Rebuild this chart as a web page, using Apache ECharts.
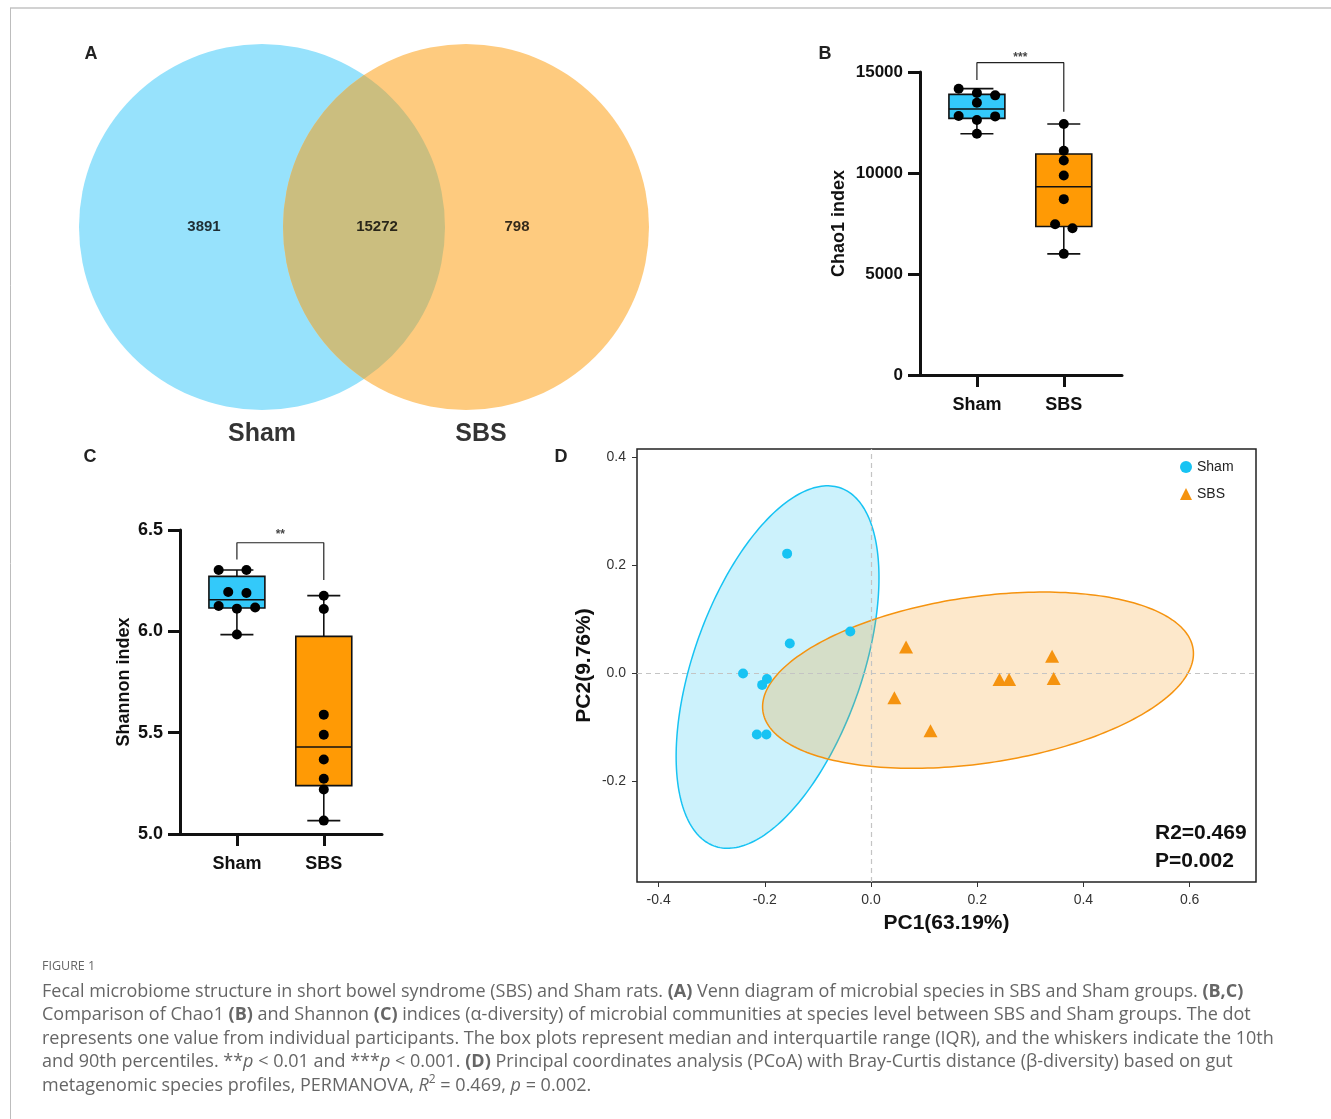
<!DOCTYPE html>
<html><head><meta charset="utf-8">
<script src="https://cdn.jsdelivr.net/npm/echarts@6/dist/echarts.min.js"></script>
<style>html,body{margin:0;padding:0;background:#fff}#c{width:1331px;height:1119px}</style>
</head><body><div id="c"></div>
<script>
// ================= DATA =================
// Panel A – Venn
const vennGroups = ['Sham', 'SBS'];
const vennCounts = [3891, 15272, 798];           // Sham only, shared, SBS only
const vennCircles = [[183, 184, 183], [387, 184, 183]]; // [cx, cy, r] in Venn units
const vennCountX = [125, 298, 438];
const vennGroupX = [183, 402];

// Panels B & C – box plots (min, Q1, median, Q3, max)
const categories = ['Sham', 'SBS'];
const chaoBox = [[11944, 12704, 13167, 13894, 14175], [5997, 7352, 9318, 10937, 12424]];
const chaoShamDots = [14175, 13960, 13844, 13481, 12820, 12803, 12622, 11944];
const chaoShamJit = [-0.21, 0, 0.21, 0, -0.21, 0.21, 0, 0];
const chaoSbsDots = [12424, 11102, 10623, 9880, 8706, 7467, 7269, 5997];
const chaoSbsJit = [0, 0, 0, 0, 0, -0.10, 0.10, 0];
const chaoBracket = [15460, 14604, 13035, 15700]; // top, left foot, right foot, stars
const chaoStars = '***';

const shanBox = [[5.984, 6.115, 6.156, 6.271, 6.303], [5.066, 5.2385, 5.429, 5.975, 6.176]];
const shanShamDots = [6.303, 6.303, 6.194, 6.189, 6.125, 6.112, 6.118, 5.984];
const shanShamJit = [-0.21, 0.11, -0.10, 0.11, -0.21, 0, 0.21, 0];
const shanSbsDots = [6.176, 6.110, 5.589, 5.490, 5.368, 5.273, 5.220, 5.066];
const shanSbsJit = [0, 0, 0, 0, 0, 0, 0, 0];
const shanBracket = [6.437, 6.355, 6.253, 6.475];
const shanStars = '**';

// Panel D – PCoA
const shamPC = [[-0.158, 0.221], [-0.153, 0.0545], [-0.039, 0.077], [-0.241, -0.001],
                [-0.196, -0.011], [-0.205, -0.022], [-0.215, -0.114], [-0.197, -0.114]];
const sbsPC = [[0.066, 0.048], [0.044, -0.046], [0.112, -0.107], [0.242, -0.012],
               [0.260, -0.012], [0.341, 0.031], [0.344, -0.010]];
// ellipse: [centerX, centerY, halfWidth, halfHeight, x at topmost point]
const shamEllipse = [-0.176, 0.011, 0.191, 0.3356, -0.0818];
const sbsEllipse = [0.2015, -0.0133, 0.4057, 0.1632, 0.3239];
const pc1Ticks = [-0.4, -0.2, 0, 0.2, 0.4, 0.6];
const pc2Ticks = [-0.2, 0, 0.2, 0.4];
const permanova = ['R2=0.469', 'P=0.002'];

// ================= STYLE =================
const FF = '"Liberation Sans", Arial, sans-serif';
const CF = '"Open Sans", sans-serif';
const BLUE_BOX = '#33c9fa', ORANGE_BOX = '#ff9a05';
const PC_BLUE = '#17c3f3', PC_ORANGE = '#f5930f';
const BOX_HALF = 0.322, CAP_HALF = 0.19;

function boxRenderFactory(colors) {
  return function (params, api) {
    const x = api.value(0);
    const lo = api.value(1), q1 = api.value(2), med = api.value(3), q3 = api.value(4), hi = api.value(5);
    const c = (v, dx) => api.coord([x + (dx || 0), v]);
    const pLo = c(lo), pQ1 = c(q1), pMed = c(med), pQ3 = c(q3), pHi = c(hi);
    const left = c(q3, -BOX_HALF)[0], right = c(q3, BOX_HALF)[0];
    const capL = c(lo, -CAP_HALF)[0], capR = c(lo, CAP_HALF)[0];
    const ls = { stroke: '#111', lineWidth: 1.6 };
    return { type: 'group', children: [
      { type: 'line', shape: { x1: pLo[0], y1: pLo[1], x2: pQ1[0], y2: pQ1[1] }, style: ls },
      { type: 'line', shape: { x1: pQ3[0], y1: pQ3[1], x2: pHi[0], y2: pHi[1] }, style: ls },
      { type: 'line', shape: { x1: capL, y1: pLo[1], x2: capR, y2: pLo[1] }, style: ls },
      { type: 'line', shape: { x1: capL, y1: pHi[1], x2: capR, y2: pHi[1] }, style: ls },
      { type: 'rect', shape: { x: left, y: pQ3[1], width: right - left, height: pQ1[1] - pQ3[1] },
        style: { fill: colors[params.dataIndex], stroke: '#111', lineWidth: 1.6 } },
      { type: 'line', shape: { x1: left, y1: pMed[1], x2: right, y2: pMed[1] }, style: ls }
    ]};
  };
}

function ellipseRenderFactory(fill, stroke) {
  return function (params, api) {
    const cx = api.value(0), cy = api.value(1), hw = api.value(2), hh = api.value(3), tx = api.value(4);
    const sxy = (tx - cx) * hh;
    const p2 = sxy / hw;
    const q2 = Math.sqrt(Math.max(hh * hh - p2 * p2, 0));
    const pts = [];
    for (let k = 0; k < 240; k++) {
      const t = k / 240 * 2 * Math.PI;
      pts.push(api.coord([cx + hw * Math.cos(t), cy + p2 * Math.cos(t) + q2 * Math.sin(t)]));
    }
    return { type: 'polygon', shape: { points: pts }, style: { fill: fill, stroke: stroke, lineWidth: 1.5 } };
  };
}

const vennColors = ['#97e2fc', '#fecb7f'];
const vennOverlap = '#cbbe7f';

function dots(vals, jit, idx) { return vals.map((v, i) => [idx + jit[i], v]); }
function bracket(b) { return [[0, b[1]], [0, b[0]], [1, b[0]], [1, b[2]]]; }

function boxXAxis(gi, fs) {
  return {
    type: 'value', gridIndex: gi, min: -0.655, max: 1.67,
    axisLine: { show: true, onZero: false, lineStyle: { color: '#111', width: 3 } },
    axisTick: { show: true, customValues: [0, 1], length: 12, lineStyle: { color: '#111', width: 3 } },
    axisLabel: { show: true, customValues: [0, 1], formatter: v => categories[Math.round(v)] || '',
                 margin: 21, color: '#111', fontSize: fs, fontWeight: 'bold', fontFamily: FF },
    splitLine: { show: false }
  };
}
function boxYAxis(gi, min, max, interval, fmt, name, gap, fs) {
  return {
    type: 'value', gridIndex: gi, min: min, max: max, interval: interval,
    name: name, nameLocation: 'middle', nameGap: gap,
    nameTextStyle: { color: '#111', fontSize: 18, fontWeight: 'bold', fontFamily: FF },
    axisLine: { show: true, onZero: false, lineStyle: { color: '#111', width: 3 } },
    axisTick: { show: true, length: 12, lineStyle: { color: '#111', width: 3 } },
    axisLabel: { formatter: fmt, margin: 17, color: '#111', fontSize: fs, fontWeight: 'bold', fontFamily: FF },
    splitLine: { show: false }
  };
}

const dotStyle = { color: '#000', opacity: 1 };

const option = {
  animation: false,
  backgroundColor: '#fff',
  grid: [
    { left: 79, top: 43, width: 571, height: 368 },
    { left: 920, top: 72, width: 202, height: 303 },
    { left: 180, top: 530, width: 202, height: 304 },
    { left: 637, top: 449, width: 619, height: 433, show: true, borderColor: '#222', borderWidth: 1.5, backgroundColor: 'transparent' }
  ],
  xAxis: [
    { type: 'value', gridIndex: 0, min: 0, max: 571, show: false },
    boxXAxis(1, 18),
    boxXAxis(2, 18),
    { type: 'value', gridIndex: 3, min: -0.4407, max: 0.725,
      name: 'PC1(63.19%)', nameLocation: 'middle', nameGap: 31,
      nameTextStyle: { color: '#111', fontSize: 21, fontWeight: 'bold', fontFamily: FF },
      axisLine: { show: false, onZero: false },
      axisTick: { show: true, customValues: pc1Ticks, length: 5, lineStyle: { color: '#333', width: 1 } },
      axisLabel: { customValues: pc1Ticks, formatter: v => v.toFixed(1), margin: 11, color: '#333', fontSize: 14, fontFamily: FF },
      splitLine: { show: false } }
  ],
  yAxis: [
    { type: 'value', gridIndex: 0, min: 0, max: 368, show: false },
    boxYAxis(1, 0, 15000, 5000, v => String(v), 'Chao1 index', 72, 17),
    boxYAxis(2, 5, 6.5, 0.5, v => v.toFixed(1), 'Shannon index', 47, 18),
    { type: 'value', gridIndex: 3, min: -0.387, max: 0.4148,
      name: 'PC2(9.76%)', nameLocation: 'middle', nameGap: 42,
      nameTextStyle: { color: '#111', fontSize: 21, fontWeight: 'bold', fontFamily: FF },
      axisLine: { show: false, onZero: false },
      axisTick: { show: true, customValues: pc2Ticks, length: 5, lineStyle: { color: '#333', width: 1 } },
      axisLabel: { customValues: pc2Ticks, formatter: v => v.toFixed(1), margin: 11, color: '#333', fontSize: 14, fontFamily: FF },
      splitLine: { show: false } }
  ],
  legend: {
    orient: 'vertical', left: 1180, top: 460, padding: 0, itemWidth: 12, itemHeight: 12, itemGap: 13,
    textStyle: { color: '#222', fontSize: 14, fontFamily: FF },
    data: [{ name: 'Sham', icon: 'circle' }, { name: 'SBS', icon: 'triangle' }],
    selectedMode: false
  },
  series: [
    // ---- A: Venn ----
    { type: 'custom', name: 'venn', xAxisIndex: 0, yAxisIndex: 0, data: vennCircles, z: 1,
      renderItem: (params, api) => {
        const p = api.coord([api.value(0), api.value(1)]);
        const r = api.size([api.value(2), 0])[0];
        return { type: 'circle', shape: { cx: p[0], cy: p[1], r: r }, style: { fill: vennColors[params.dataIndex] } };
      } },
    { type: 'custom', name: 'vennOverlap', xAxisIndex: 0, yAxisIndex: 0, data: [[0]], z: 2,
      renderItem: (params, api) => {
        const a = api.coord([vennCircles[0][0], vennCircles[0][1]]);
        const b = api.coord([vennCircles[1][0], vennCircles[1][1]]);
        const r = api.size([vennCircles[0][2], 0])[0];
        const d = b[0] - a[0];
        const xm = a[0] + d / 2, h = Math.sqrt(r * r - d * d / 4);
        const yt = a[1] - h, yb = a[1] + h;
        const path = 'M' + xm + ',' + yt + ' A' + r + ',' + r + ' 0 0 1 ' + xm + ',' + yb +
                     ' A' + r + ',' + r + ' 0 0 1 ' + xm + ',' + yt + ' Z';
        return { type: 'path', shape: { pathData: path }, style: { fill: vennOverlap } };
      } },
    { type: 'scatter', name: 'vennCounts', xAxisIndex: 0, yAxisIndex: 0, z: 5, symbolSize: 0.1, clip: false,
      itemStyle: { color: 'transparent' },
      data: vennCounts.map((v, i) => [vennCountX[i], 184, v]),
      label: { show: true, position: 'inside', formatter: p => String(p.value[2]),
               color: '#000', fontSize: 15, fontWeight: 'bold', fontFamily: FF } },
    { type: 'scatter', name: 'vennNames', xAxisIndex: 0, yAxisIndex: 0, z: 5, symbolSize: 0.1, clip: false,
      itemStyle: { color: 'transparent' },
      data: vennGroups.map((g, i) => [vennGroupX[i], -23, g]),
      label: { show: true, position: 'inside', formatter: p => p.value[2],
               color: '#000', fontSize: 25, fontWeight: 'bold', fontFamily: FF } },

    // ---- B: Chao1 ----
    { type: 'custom', name: 'chaoBox', xAxisIndex: 1, yAxisIndex: 1, z: 2,
      data: chaoBox.map((b, i) => [i].concat(b)), renderItem: boxRenderFactory([BLUE_BOX, ORANGE_BOX]) },
    { type: 'scatter', name: 'chaoDots', xAxisIndex: 1, yAxisIndex: 1, z: 4, symbolSize: 10, itemStyle: dotStyle,
      data: dots(chaoShamDots, chaoShamJit, 0).concat(dots(chaoSbsDots, chaoSbsJit, 1)) },
    { type: 'line', name: 'chaoBracket', xAxisIndex: 1, yAxisIndex: 1, clip: false, symbol: 'none',
      lineStyle: { color: '#222', width: 1.2 }, data: bracket(chaoBracket) },
    { type: 'scatter', name: 'chaoStars', xAxisIndex: 1, yAxisIndex: 1, clip: false, symbolSize: 0.1,
      itemStyle: { color: 'transparent' }, data: [[0.5, chaoBracket[3]]],
      label: { show: true, position: 'inside', formatter: chaoStars, color: '#111', fontSize: 12, fontWeight: 'bold', fontFamily: FF } },

    // ---- C: Shannon ----
    { type: 'custom', name: 'shanBox', xAxisIndex: 2, yAxisIndex: 2, z: 2,
      data: shanBox.map((b, i) => [i].concat(b)), renderItem: boxRenderFactory([BLUE_BOX, ORANGE_BOX]) },
    { type: 'scatter', name: 'shanDots', xAxisIndex: 2, yAxisIndex: 2, z: 4, symbolSize: 10, itemStyle: dotStyle,
      data: dots(shanShamDots, shanShamJit, 0).concat(dots(shanSbsDots, shanSbsJit, 1)) },
    { type: 'line', name: 'shanBracket', xAxisIndex: 2, yAxisIndex: 2, clip: false, symbol: 'none',
      lineStyle: { color: '#222', width: 1.2 }, data: bracket(shanBracket) },
    { type: 'scatter', name: 'shanStars', xAxisIndex: 2, yAxisIndex: 2, clip: false, symbolSize: 0.1,
      itemStyle: { color: 'transparent' }, data: [[0.5, shanBracket[3]]],
      label: { show: true, position: 'inside', formatter: shanStars, color: '#111', fontSize: 12, fontWeight: 'bold', fontFamily: FF } },

    // ---- D: PCoA ----
    { type: 'custom', name: 'shamEllipse', xAxisIndex: 3, yAxisIndex: 3, z: 2, data: [shamEllipse],
      renderItem: ellipseRenderFactory('rgba(23,195,243,0.22)', PC_BLUE) },
    { type: 'custom', name: 'sbsEllipse', xAxisIndex: 3, yAxisIndex: 3, z: 2, data: [sbsEllipse],
      renderItem: ellipseRenderFactory('rgba(245,147,15,0.215)', PC_ORANGE) },
    { type: 'scatter', name: 'Sham', xAxisIndex: 3, yAxisIndex: 3, z: 5, symbol: 'circle', symbolSize: 10,
      itemStyle: { color: PC_BLUE, opacity: 1 }, data: shamPC,
      markLine: { silent: true, symbol: 'none', label: { show: false },
                  lineStyle: { color: '#c4c4c4', type: [5, 4], width: 1.2 },
                  data: [{ xAxis: 0 }, { yAxis: 0 }] } },
    { type: 'scatter', name: 'SBS', xAxisIndex: 3, yAxisIndex: 3, z: 5, symbol: 'triangle', symbolSize: [14, 13],
      itemStyle: { color: PC_ORANGE, opacity: 1 }, data: sbsPC }
  ],
  graphic: [
    // figure frame
    { type: 'line', shape: { x1: 10, y1: 8, x2: 1331, y2: 8 }, style: { stroke: '#d2d2d2', lineWidth: 2 }, silent: true },
    { type: 'line', shape: { x1: 10.5, y1: 8, x2: 10.5, y2: 1119 }, style: { stroke: '#bdbdbd', lineWidth: 1 }, silent: true },
    // panel letters
    { type: 'text', x: 91, y: 54, style: { text: 'A', fontSize: 18, fontWeight: 'bold', fontFamily: FF, fill: '#222', align: 'center', verticalAlign: 'middle' } },
    { type: 'text', x: 825, y: 54, style: { text: 'B', fontSize: 18, fontWeight: 'bold', fontFamily: FF, fill: '#222', align: 'center', verticalAlign: 'middle' } },
    { type: 'text', x: 90, y: 457, style: { text: 'C', fontSize: 18, fontWeight: 'bold', fontFamily: FF, fill: '#222', align: 'center', verticalAlign: 'middle' } },
    { type: 'text', x: 561, y: 457, style: { text: 'D', fontSize: 18, fontWeight: 'bold', fontFamily: FF, fill: '#222', align: 'center', verticalAlign: 'middle' } },
    // PERMANOVA annotation
    { type: 'text', x: 1155, y: 833, style: { text: permanova[0], fontSize: 21, fontWeight: 'bold', fontFamily: FF, fill: '#111', align: 'left', verticalAlign: 'middle' } },
    { type: 'text', x: 1155, y: 861, style: { text: permanova[1], fontSize: 21, fontWeight: 'bold', fontFamily: FF, fill: '#111', align: 'left', verticalAlign: 'middle' } },
    // caption
    { type: 'text', x: 42, y: 966, style: { text: 'FIGURE 1', fontSize: 12.5, fontFamily: CF, fill: '#666', align: 'left', verticalAlign: 'middle' } },
    { type: 'text', x: 42, y: 980, style: {
        text: 'Fecal microbiome structure in short bowel syndrome (SBS) and Sham rats. {b|(A)} Venn diagram of microbial species in SBS and Sham groups. {b|(B,C)}\n' +
              'Comparison of Chao1 {b|(B)} and Shannon {b|(C)} indices (α-diversity) of microbial communities at species level between SBS and Sham groups. The dot\n' +
              'represents one value from individual participants. The box plots represent median and interquartile range (IQR), and the whiskers indicate the 10th\n' +
              'and 90th percentiles. **{i|p} < 0.01 and ***{i|p} < 0.001. {b|(D)} Principal coordinates analysis (PCoA) with Bray-Curtis distance (β-diversity) based on gut\n' +
              'metagenomic species profiles, PERMANOVA, {i|R}{sup|2} = 0.469, {i|p} = 0.002.',
        fontSize: 18, fontFamily: CF, fill: '#666', lineHeight: 23.5,
        align: 'left', verticalAlign: 'top',
        rich: {
          b: { fontSize: 18, fontWeight: 'bold', fontFamily: CF, fill: '#666', lineHeight: 23.5 },
          i: { fontSize: 18, fontStyle: 'italic', fontFamily: CF, fill: '#666', lineHeight: 23.5 },
          sup: { fontSize: 12, fontFamily: CF, fill: '#666', verticalAlign: 'top', lineHeight: 16 }
        } } }
  ]
};

const chart = echarts.init(document.getElementById('c'), null, { renderer: 'canvas' });
chart.setOption(option);
</script>
</body></html>
